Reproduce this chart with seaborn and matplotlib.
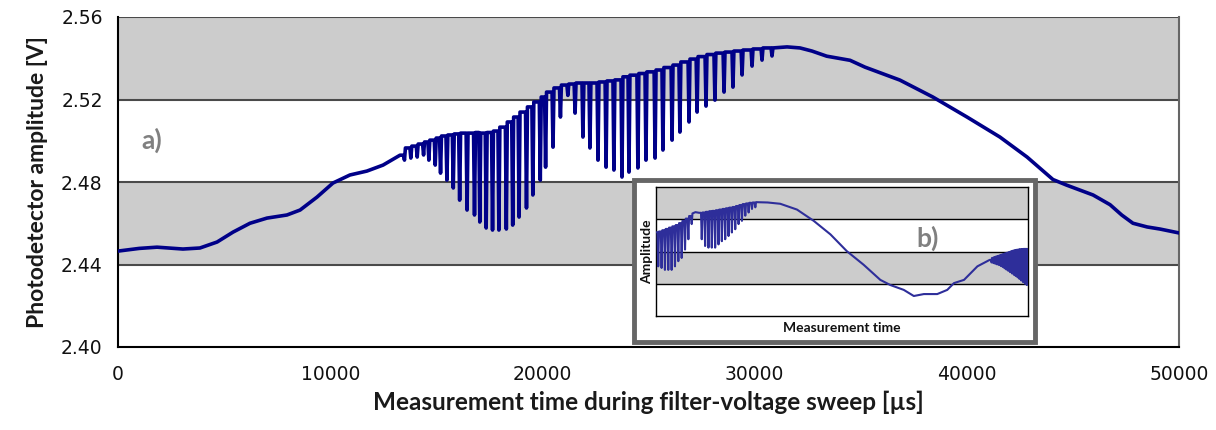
import numpy as np
import pandas as pd
import matplotlib
matplotlib.use("Agg")
import matplotlib.pyplot as plt
from matplotlib.patches import Rectangle
import seaborn as sns

# ---------------- data ----------------
# main trace: smooth rise before the first absorption cluster
rise_x = [0, 1000, 1840, 3060, 3860, 4670, 5420, 6220, 7020, 7960, 8580, 9380,
          10130, 10930, 11730, 12490, 13290]
rise_y = [2.4465, 2.4478, 2.4484, 2.4475, 2.4480, 2.4509, 2.4557, 2.4600, 2.4625,
          2.4640, 2.4664, 2.4727, 2.4795, 2.4834, 2.4853, 2.4882, 2.4930]

# first cluster of dips: dip positions, dip minima, plateau level after each dip
c1_dip_x = [13500, 13800, 14100, 14400, 14650, 14950, 15200, 15500, 15800, 16100,
            16450, 16800, 17050, 17350, 17650, 17950, 18300, 18600, 18900, 19250,
            19550, 19900, 20150, 20500, 20850]
c1_dip_y = [2.4906, 2.4916, 2.4921, 2.4931, 2.4906, 2.4882, 2.4843, 2.4809, 2.4771,
            2.4712, 2.4664, 2.4640, 2.4606, 2.4577, 2.4567, 2.4567, 2.4572, 2.4591,
            2.4630, 2.4674, 2.4737, 2.4809, 2.4872, 2.4969, 2.5115]
c1_top_y = [2.4965, 2.4974, 2.4984, 2.4994, 2.5003, 2.5013, 2.5023, 2.5028, 2.5033,
            2.5037, 2.5037, 2.5040, 2.5037, 2.5040, 2.5047, 2.5066, 2.5091, 2.5115,
            2.5139, 2.5164, 2.5188, 2.5212, 2.5236, 2.5256, 2.5270]

# second cluster of dips
c2_dip_x = [21200, 21540, 21910, 22240, 22620, 23000, 23370, 23750, 24080, 24500,
            24880, 25310, 25680, 26110, 26480, 26910, 27290, 27710, 28130, 28560,
            28980, 29410, 29880, 30350, 30820]
c2_dip_y = [2.5220, 2.5134, 2.5018, 2.4965, 2.4906, 2.4872, 2.4858, 2.4824, 2.4848,
            2.4868, 2.4906, 2.4916, 2.4955, 2.5003, 2.5042, 2.5091, 2.5139, 2.5168,
            2.5197, 2.5236, 2.5260, 2.5319, 2.5362, 2.5391, 2.5411]
c2_top_y = [2.5275, 2.5280, 2.5280, 2.5280, 2.5285, 2.5290, 2.5295, 2.5310, 2.5318,
            2.5326, 2.5334, 2.5343, 2.5355, 2.5367, 2.5382, 2.5396, 2.5408, 2.5418,
            2.5425, 2.5430, 2.5435, 2.5440, 2.5445, 2.5450, 2.5450]

# smooth decay after the dips
decay_x = [31530, 32140, 32700, 33400, 34500, 35200, 36850, 38400, 40010, 41560,
           42840, 43500, 44060, 44700, 45190, 45950, 46750, 47300, 47830, 48500,
           49100, 50000]
decay_y = [2.5455, 2.5450, 2.5435, 2.5410, 2.5390, 2.5357, 2.5294, 2.5212, 2.5115,
           2.5018, 2.4921, 2.4862, 2.4812, 2.4785, 2.4766, 2.4737, 2.4690, 2.4640,
           2.4600, 2.4582, 2.4572, 2.4553]

# inset b) trace (arbitrary units: x 0..100, y 0..4)
b_start_x, b_start_y = [0.2], [2.60]
b_c1_dip_x = [0.6, 1.5, 2.4, 3.3, 4.2, 5.1, 6.0, 6.9, 7.8, 8.7, 9.6]
b_c1_dip_y = [1.54, 1.49, 1.43, 1.43, 1.43, 1.54, 1.70, 1.80, 2.06, 2.38, 2.85]
b_c1_top_y = [2.62, 2.66, 2.70, 2.74, 2.78, 2.82, 2.88, 2.95, 3.02, 3.10, 3.18]
b_gap_x, b_gap_y = [10.6, 11.6], [3.22, 3.20]
b_c2_dip_x = [12.3, 13.2, 14.1, 15.0, 15.9, 16.8, 17.7, 18.6, 19.5, 20.4, 21.3, 22.2,
              23.1, 24.0, 24.9, 25.8, 26.7]
b_c2_dip_y = [2.38, 2.17, 2.12, 2.12, 2.12, 2.22, 2.32, 2.38, 2.48, 2.59, 2.69, 2.85,
              2.95, 3.11, 3.21, 3.32, 3.37]
b_c2_top_y = [3.21, 3.23, 3.25, 3.26, 3.28, 3.30, 3.32, 3.34, 3.36, 3.38, 3.41, 3.44,
              3.47, 3.49, 3.51, 3.52, 3.53]
b_mid_x = [30.0, 33.4, 37.9, 42.4, 46.9, 51.3, 55.8, 60.3, 63.0, 66.6, 69.3, 72.0,
           75.6, 78.3, 80.1, 82.8, 86.4, 89.7]
b_mid_y = [3.52, 3.48, 3.30, 2.95, 2.53, 2.01, 1.59, 1.12, 0.96, 0.81, 0.62, 0.68,
           0.68, 0.81, 1.02, 1.12, 1.54, 1.74]
b_end_dip_x = [90.2, 90.7, 91.2, 91.7, 92.2, 92.7, 93.2, 93.7, 94.2, 94.7, 95.2, 95.7,
               96.2, 96.7, 97.2, 97.7, 98.2, 98.7, 99.2, 99.7]
b_end_dip_y = [1.66, 1.64, 1.62, 1.60, 1.58, 1.55, 1.52, 1.48, 1.44, 1.40, 1.36, 1.32,
               1.28, 1.24, 1.20, 1.15, 1.10, 1.05, 1.00, 0.96]
b_end_top_y = [1.80, 1.82, 1.84, 1.86, 1.88, 1.90, 1.92, 1.94, 1.96, 1.98, 2.00, 2.02,
               2.04, 2.05, 2.06, 2.07, 2.07, 2.08, 2.08, 2.08]

y_ticks = [2.40, 2.44, 2.48, 2.52, 2.56]
x_ticks = [0, 10000, 20000, 30000, 40000, 50000]

# ---------------- assemble series ----------------
DIP_HW_MAIN = 45     # drawing half-width of a dip (style)
DIP_HW_INSET = 0.2


def dips(dx, dy, ty, start_level, hw):
    xs, ys = [], []
    prev = start_level
    for a, b, d in zip(dx, dy, ty):
        xs += [a - hw, a, a + hw]
        ys += [prev, b, d]
        prev = d
    return xs, ys


c1x, c1y = dips(c1_dip_x, c1_dip_y, c1_top_y, rise_y[-1], DIP_HW_MAIN)
c2x, c2y = dips(c2_dip_x, c2_dip_y, c2_top_y, c1_top_y[-1], DIP_HW_MAIN)
main = pd.DataFrame({"t": rise_x + c1x + c2x + decay_x,
                     "v": rise_y + c1y + c2y + decay_y})

b1x, b1y = dips(b_c1_dip_x, b_c1_dip_y, b_c1_top_y, b_start_y[0], DIP_HW_INSET)
b2x, b2y = dips(b_c2_dip_x, b_c2_dip_y, b_c2_top_y, b_gap_y[-1], DIP_HW_INSET)
b3x, b3y = dips(b_end_dip_x, b_end_dip_y, b_end_top_y, b_mid_y[-1], 0.12)
inset = pd.DataFrame({"t": b_start_x + b1x + b_gap_x + b2x + b_mid_x + b3x,
                      "v": b_start_y + b1y + b_gap_y + b2y + b_mid_y + b3y})

# ---------------- figure ----------------
sns.set_style("white")
plt.rcParams["font.family"] = ["DejaVu Sans"]

W, H = 1216, 430
fig = plt.figure(figsize=(W / 100, H / 100), dpi=100)
ax = fig.add_axes([118 / W, 1 - 347 / H, (1179 - 118) / W, (347 - 17) / H])

band = "#cccccc"
ax.axhspan(2.44, 2.48, color=band, zorder=0, lw=0)
ax.axhspan(2.52, 2.56, color=band, zorder=0, lw=0)
for yv in y_ticks[1:]:
    ax.axhline(yv, color="#4a4a4a", lw=1.5, zorder=1)

sns.lineplot(data=main, x="t", y="v", ax=ax, estimator=None, sort=False,
             color="#000088", lw=2.6, zorder=3)

ax.set_xlim(0, 50000)
ax.set_ylim(2.40, 2.56)
ax.set_xticks(x_ticks)
ax.set_xticklabels([str(v) for v in x_ticks])
ax.set_yticks(y_ticks)
ax.set_yticklabels([f"{v:.2f}" for v in y_ticks])
ax.tick_params(axis="both", labelsize=13.5, direction="out", length=5,
               width=1.2, color="black", pad=6, labelcolor="#111111")
ax.tick_params(axis="x", pad=8)
for s in ["left", "bottom"]:
    ax.spines[s].set_color("black")
    ax.spines[s].set_linewidth(1.5)
ax.spines["top"].set_visible(False)
ax.spines["right"].set_color("#666666")
ax.spines["right"].set_linewidth(1.5)

ax.set_ylabel("Photodetector amplitude [V]", labelpad=9,
              family=["Lato", "DejaVu Sans"], weight="bold", size=16.5, color="#1a1a1a")
ax.set_xlabel("Measurement time during filter-voltage sweep [µs]", labelpad=5,
              family=["Lato", "DejaVu Sans"], weight="bold", size=17.5, color="#1a1a1a")

ax.text(0.022, 0.627, "a)", transform=ax.transAxes, fontsize=19, fontweight="bold",
        color="#808080", family=["Lato", "DejaVu Sans"], va="center")

# inset frame
frame = Rectangle((634 / W, 1 - 342 / H), (1035 - 634) / W, (342 - 180) / H,
                  transform=fig.transFigure, facecolor="white", edgecolor="#666666",
                  lw=3.5, zorder=5)
fig.add_artist(frame)

ax2 = fig.add_axes([656 / W, 1 - 316 / H, (1028 - 656) / W, (316 - 187) / H], zorder=10)
ax2.set_facecolor("white")
ax2.axhspan(3, 4, color=band, lw=0, zorder=0)
ax2.axhspan(1, 2, color=band, lw=0, zorder=0)
for yv in [1, 2, 3]:
    ax2.axhline(yv, color="black", lw=1.0, zorder=1)
sns.lineplot(data=inset, x="t", y="v", ax=ax2, estimator=None, sort=False,
             color="#2e2e9a", lw=1.5, zorder=3)
ax2.set_xlim(0, 100)
ax2.set_ylim(0, 4)
ax2.set_xticks([])
ax2.set_yticks([])
for s in ax2.spines.values():
    s.set_color("black")
    s.set_linewidth(1.0)
ax2.set_ylabel("Amplitude", labelpad=2, family=["Lato", "DejaVu Sans"],
               weight="bold", size=10, color="#111111")
ax2.set_xlabel("Measurement time", labelpad=4, family=["Lato", "DejaVu Sans"],
               weight="bold", size=10, color="#111111")
ax2.text(0.70, 0.60, "b)", transform=ax2.transAxes, fontsize=19, fontweight="bold",
         color="#808080", family=["Lato", "DejaVu Sans"], va="center")

fig.savefig("out.png", dpi=100)
